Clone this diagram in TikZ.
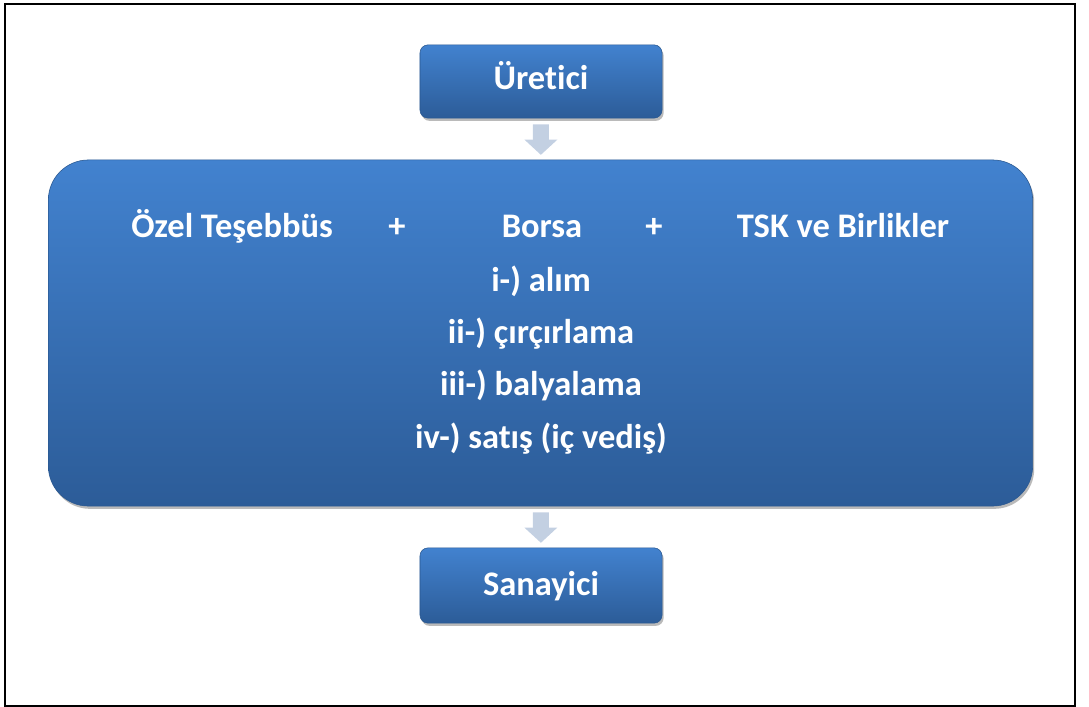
\documentclass[tikz,border=0pt]{standalone}
\usepackage{fontspec}
\setmainfont{Carlito}[Ligatures=NoCommon]
\usepackage{tikz}
\usetikzlibrary{arrows.meta,shadows}

\definecolor{kutuust}{HTML}{4282CF}
\definecolor{kutualt}{HTML}{2C5C98}
\definecolor{kutucizgi}{HTML}{2A5890}
\definecolor{okrenk}{HTML}{C3D0E2}

\begin{document}
\begin{tikzpicture}[x=0.025cm, y=-0.025cm,
    kutu/.style={draw=kutucizgi, top color=kutuust, bottom color=kutualt,
      rounded corners=0.2cm, drop shadow={shadow xshift=0.04cm, shadow yshift=-0.07cm, opacity=0.45, fill=black!60}},
    metin/.style={text=white, font=\bfseries\fontsize{24.5}{29}\selectfont, inner sep=0pt, anchor=base},
    okstil/.style={draw=okrenk, line width=0.4cm, shorten <=0.15cm, shorten >=0.12cm,
      -{Triangle[width=0.8cm, length=0.38cm, fill=okrenk]}}]
            \useasboundingbox (0,0) rectangle (1089,707);
            \draw[line width=0.05cm] (5,4) rectangle (1075,706);

            % Kutular
            \node[kutu, minimum width=6.05cm, minimum height=1.83cm] (uretici) at (541,81.5) {};
            \node[kutu, rounded corners=1cm, minimum width=24.6cm, minimum height=8.65cm] (ortak) at (540.5,333) {};
            \node[kutu, minimum width=6.05cm, minimum height=1.88cm] (sanayici) at (541,585.5) {};

            % Metinler
            \node[metin] (uretici metin) at (541,90) {Üretici};
            \node[metin] (ozel) at (232,238) {Özel Teşebbüs};
            \node[metin] (arti1) at (397,238) {+};
            \node[metin] (borsa) at (542,238) {Borsa};
            \node[metin] (arti2) at (654,238) {+};
            \node[metin] (tsk) at (843,238) {TSK ve Birlikler};
            \node[metin] (adim1) at (541,292) {i-) alım};
            \node[metin] (adim2) at (541,344) {ii-) çırçırlama};
            \node[metin] (adim3) at (541,396) {iii-) balyalama};
            \node[metin] (adim4) at (541,448) {iv-) satış (iç vediş)};
            \node[metin] (sanayici metin) at (541,595) {Sanayici};

            % Oklar
            \draw[okstil] (uretici) -- (ortak);
            \draw[okstil] (ortak) -- (sanayici);
          \end{tikzpicture}
\end{document}
